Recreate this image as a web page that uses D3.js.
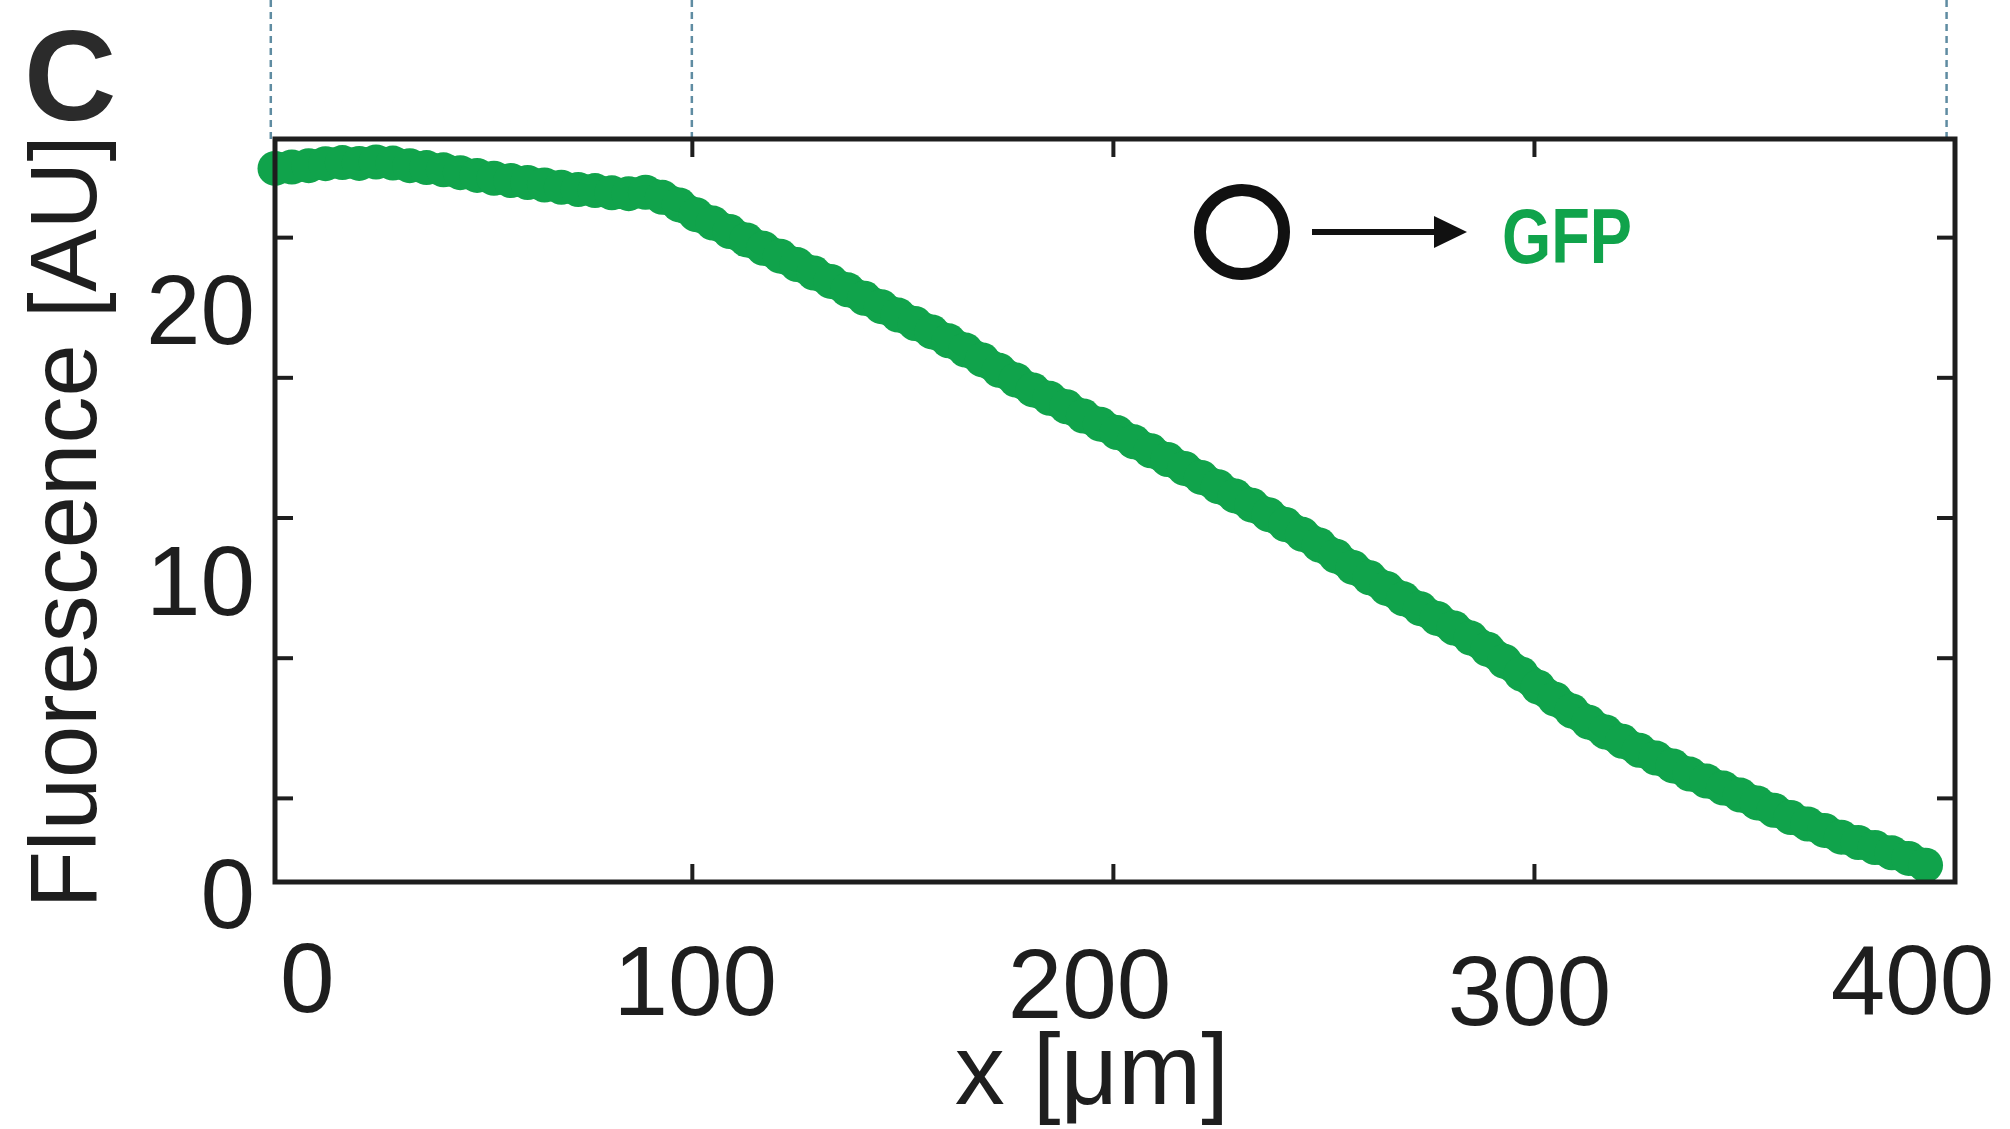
<!DOCTYPE html>
<html>
<head>
<meta charset="utf-8">
<script src="https://cdn.jsdelivr.net/npm/d3@7"></script>
<style>
  html, body { margin: 0; padding: 0; background: #ffffff; }
  svg { display: block; }
  text { font-family: "Liberation Sans", Arial, Helvetica, sans-serif; }
</style>
</head>
<body>
<svg id="chart" width="2010" height="1129"></svg>
<script>
// GFP fluorescence profile along the channel (position in µm)
const positions = [
  1, 5, 9, 13, 17, 21, 25, 29, 33, 37, 41, 45, 49, 53, 57, 61, 65, 69, 73, 77,
  81, 85, 89, 93, 97, 101, 105, 109, 113, 117, 121, 125, 129, 133, 137, 141, 145, 149, 153, 157,
  161, 165, 169, 173, 177, 181, 185, 189, 193, 197, 201, 205, 209, 213, 217, 221, 225, 229, 233, 237,
  241, 245, 249, 253, 257, 261, 265, 269, 273, 277, 281, 285, 289, 293, 297, 301, 305, 309, 313, 317,
  321, 325, 329, 333, 337, 341, 345, 349, 353, 357, 361, 365, 369, 373, 377, 381, 385, 389, 393
];
const fluorescence = [
  25.45, 25.50, 25.55, 25.62, 25.66, 25.63, 25.68, 25.64, 25.55, 25.48, 25.40, 25.30, 25.20, 25.10, 25.02, 24.95, 24.86, 24.78, 24.70, 24.66,
  24.58, 24.55, 24.60, 24.42, 24.15, 23.80, 23.50, 23.20, 22.90, 22.60, 22.32, 22.02, 21.72, 21.42, 21.12, 20.82, 20.52, 20.22, 19.92, 19.62,
  19.30, 18.97, 18.62, 18.25, 17.90, 17.55, 17.25, 16.95, 16.62, 16.33, 16.03, 15.70, 15.38, 15.07, 14.75, 14.43, 14.10, 13.77, 13.44, 13.10,
  12.75, 12.40, 12.02, 11.62, 11.22, 10.85, 10.47, 10.10, 9.75, 9.40, 9.06, 8.70, 8.30, 7.87, 7.42, 6.95, 6.52, 6.10, 5.70, 5.35,
  5.02, 4.70, 4.42, 4.14, 3.85, 3.60, 3.35, 3.10, 2.82, 2.56, 2.30, 2.07, 1.84, 1.60, 1.41, 1.23, 1.04, 0.84, 0.60
];

// Axis ticks
const xTickLabels = [0, 100, 200, 300, 400];
const xTickMarks = [100, 200, 300];
const yTickLabels = [0, 10, 20];
const yTickMarks = [3, 8, 13, 18, 23];
// Region boundaries carried down from the panel above
const guidePositions = [0, 100, 398];

const panelLetter = "C";
const xTitle = "x [μm]";
const yTitle = "Fluorescence [AU]";
const legendLabel = "GFP";

const GREEN = "#10a34b";
const INK = "#1e1e1e";

const svg = d3.select("#chart");
svg.append("rect").attr("width", 2010).attr("height", 1129).attr("fill", "#ffffff");

const frame = { left: 275, right: 1955, top: 139, bottom: 882 };

const x = d3.scaleLinear().domain([1, 400]).range([frame.left, frame.right]);
const y = d3.scaleLinear().domain([0, 26.5]).range([frame.bottom, frame.top]);

// dashed guides above the axes box
svg.append("g")
  .selectAll("line")
  .data(guidePositions)
  .join("line")
  .attr("x1", d => x(d)).attr("x2", d => x(d))
  .attr("y1", 0).attr("y2", frame.top)
  .attr("stroke", "#5f8ca2")
  .attr("stroke-width", 2.5)
  .attr("stroke-dasharray", "7,5");

// data: dense filled circle markers forming a thick band
const pts = positions.map((p, i) => [p, fluorescence[i]]);
const R = 17.5;
svg.append("path")
  .datum(pts)
  .attr("d", d3.line().x(d => x(d[0])).y(d => y(d[1])).curve(d3.curveMonotoneX))
  .attr("fill", "none")
  .attr("stroke", GREEN)
  .attr("stroke-width", 2 * R - 4)
  .attr("stroke-linecap", "round")
  .attr("stroke-linejoin", "round");
svg.append("g")
  .selectAll("circle")
  .data(pts)
  .join("circle")
  .attr("cx", d => x(d[0]))
  .attr("cy", d => y(d[1]))
  .attr("r", R)
  .attr("fill", GREEN);

// tick marks pointing inward on all four sides
const tickLen = 18;
function styleTicks(g) {
  g.select(".domain").remove();
  g.selectAll(".tick line").attr("stroke", INK).attr("stroke-width", 4);
  g.selectAll(".tick text").remove();
}
svg.append("g").attr("transform", `translate(0,${frame.bottom})`)
  .call(d3.axisBottom(x).tickValues(xTickMarks).tickSizeInner(-tickLen).tickSizeOuter(0))
  .call(styleTicks);
svg.append("g").attr("transform", `translate(0,${frame.top})`)
  .call(d3.axisTop(x).tickValues(xTickMarks).tickSizeInner(-tickLen).tickSizeOuter(0))
  .call(styleTicks);
svg.append("g").attr("transform", `translate(${frame.left},0)`)
  .call(d3.axisLeft(y).tickValues(yTickMarks).tickSizeInner(-tickLen).tickSizeOuter(0))
  .call(styleTicks);
svg.append("g").attr("transform", `translate(${frame.right},0)`)
  .call(d3.axisRight(y).tickValues(yTickMarks).tickSizeInner(-tickLen).tickSizeOuter(0))
  .call(styleTicks);

// axes box
svg.append("rect")
  .attr("x", frame.left).attr("y", frame.top)
  .attr("width", frame.right - frame.left)
  .attr("height", frame.bottom - frame.top)
  .attr("fill", "none")
  .attr("stroke", INK)
  .attr("stroke-width", 5);

// tick labels (hand-placed offsets as in the published figure)
const xLabelNudge = { 0: [36, 95], 100: [3, 98], 200: [-24, 101], 300: [-5, 108], 400: [-43, 97] };
const xLabels = svg.append("g").attr("transform", `translate(0,${frame.bottom})`)
  .call(d3.axisBottom(x).tickValues(xTickLabels).tickSize(0).tickPadding(0).tickFormat(d3.format("d")));
xLabels.select(".domain").remove();
xLabels.selectAll(".tick text")
  .attr("font-family", "Liberation Sans, Arial, sans-serif")
  .attr("font-size", 98)
  .attr("fill", INK)
  .attr("dy", null)
  .attr("x", d => xLabelNudge[d][0])
  .attr("y", d => xLabelNudge[d][1] + 35);

const yLabelNudge = { 0: 10, 10: -22, 20: -13 };
const yLabels = svg.append("g").attr("transform", `translate(${frame.left},0)`)
  .call(d3.axisLeft(y).tickValues(yTickLabels).tickSize(0).tickPadding(20).tickFormat(d3.format("d")));
yLabels.select(".domain").remove();
yLabels.selectAll(".tick text")
  .attr("font-family", "Liberation Sans, Arial, sans-serif")
  .attr("font-size", 98)
  .attr("fill", INK)
  .attr("dy", null)
  .attr("y", d => yLabelNudge[d] + 35);

// axis titles
svg.append("text")
  .attr("x", 1092).attr("y", 1104)
  .attr("text-anchor", "middle")
  .attr("font-size", 100)
  .attr("fill", INK)
  .text(xTitle);

svg.append("text")
  .attr("transform", "translate(96,522) rotate(-90)")
  .attr("text-anchor", "middle")
  .attr("font-size", 94)
  .attr("fill", INK)
  .text(yTitle);

// panel letter
svg.append("text")
  .attr("x", 24).attr("y", 120)
  .attr("font-size", 128)
  .attr("font-weight", "bold")
  .attr("fill", "#2b2b2b")
  .text(panelLetter);

// promoter → GFP schematic
const legend = svg.append("g");
legend.append("circle")
  .attr("cx", 1242).attr("cy", 232).attr("r", 42)
  .attr("fill", "none").attr("stroke", "#111").attr("stroke-width", 12);
legend.append("line")
  .attr("x1", 1312).attr("x2", 1440).attr("y1", 232).attr("y2", 232)
  .attr("stroke", "#111").attr("stroke-width", 6);
legend.append("path")
  .attr("d", "M1434,216 L1467,232 L1434,248 Z")
  .attr("fill", "#111");
legend.append("text")
  .attr("x", 1502).attr("y", 263)
  .attr("font-size", 78)
  .attr("font-weight", "bold")
  .attr("fill", GREEN)
  .attr("textLength", 130)
  .attr("lengthAdjust", "spacingAndGlyphs")
  .text(legendLabel);
</script>
</body>
</html>
